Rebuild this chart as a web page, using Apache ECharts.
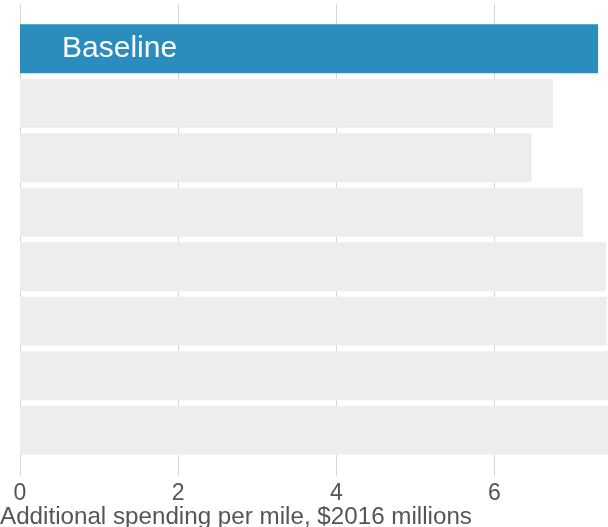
<!DOCTYPE html>
<html>
<head>
<meta charset="utf-8">
<script src="https://cdn.jsdelivr.net/npm/echarts@6/dist/echarts.min.js"></script>
<style>
  html, body { margin: 0; padding: 0; background: #fff; }
  #main { width: 608px; height: 527px; }
</style>
</head>
<body>
<div id="main"></div>
<script>
var categories = ['Baseline', 'Scenario 2', 'Scenario 3', 'Scenario 4', 'Scenario 5', 'Scenario 6', 'Scenario 7', 'Scenario 8'];
var values = [7.31, 6.74, 6.47, 7.12, 7.41, 7.42, 7.6, 7.7];
var xTicks = [0, 2, 4, 6];
var axisTitle = 'Additional spending per mile, $2016 millions';

var FONT = '"Liberation Sans", Arial, Helvetica, sans-serif';
var X_MAX = 7.435;

var myChart = echarts.init(document.getElementById('main'));

var barData = values.map(function (v, i) {
    if (i === 0) {
        return {
            value: v,
            itemStyle: { color: '#2b8cbe' },
            label: {
                show: true,
                position: 'insideLeft',
                distance: 42,
                formatter: categories[0],
                color: '#fff',
                fontSize: 30,
                fontFamily: FONT
            }
        };
    }
    return v;
});

var option = {
    animation: false,
    grid: [
        { left: 20, right: 0, top: 4, bottom: 51 },          // 网格线
        { left: 20, right: 0, top: 21.4, bottom: 69.4 }      // 柱子
    ],
    xAxis: [{
        gridIndex: 0,
        type: 'value',
        min: 0,
        max: X_MAX,
        interval: 2,
        axisLine: { show: false },
        axisTick: { show: false },
        splitLine: { lineStyle: { color: '#d6d6d6', width: 1 } },
        axisLabel: {
            color: '#555',
            fontSize: 23,
            fontFamily: FONT,
            margin: 6,
            showMaxLabel: false,
            formatter: function (v) { return xTicks.indexOf(v) >= 0 ? String(v) : ''; }
        }
    }, {
        gridIndex: 1,
        type: 'value',
        min: 0,
        max: X_MAX,
        show: false
    }],
    yAxis: [{
        gridIndex: 0,
        type: 'value',
        show: false
    }, {
        gridIndex: 1,
        type: 'category',
        inverse: true,
        data: categories,
        show: false
    }],
    graphic: [{
        type: 'text',
        left: 0,
        top: 505,
        style: {
            text: axisTitle,
            fill: '#555',
            font: '24.2px ' + FONT
        }
    }],
    series: [{
        type: 'bar',
        xAxisIndex: 1,
        yAxisIndex: 1,
        barCategoryGap: '10%',
        clip: true,
        itemStyle: { color: '#ededed' },
        data: barData
    }]
};
myChart.setOption(option);
</script>
</body>
</html>
